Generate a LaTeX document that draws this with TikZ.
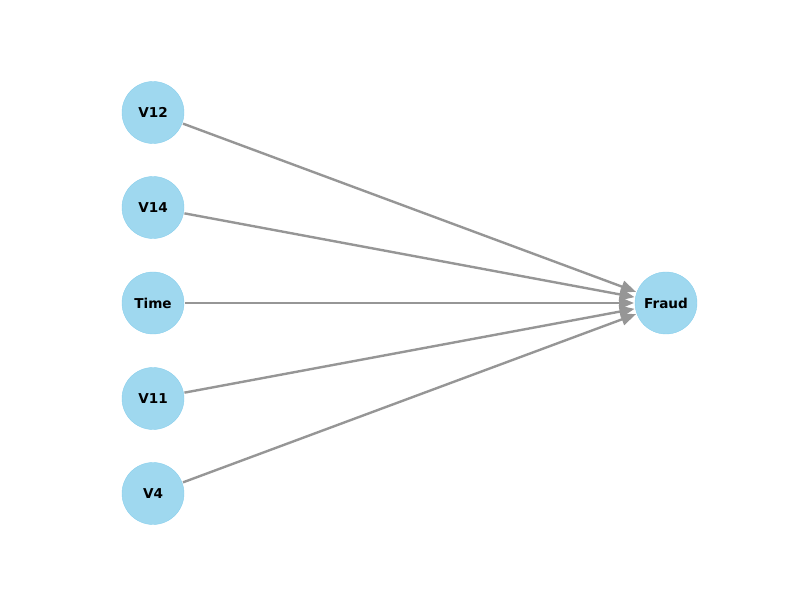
\documentclass[tikz,border=0pt]{standalone}
\usepackage{fontspec}
\setmainfont{DejaVu Sans}
\usetikzlibrary{arrows.meta}
\definecolor{nodeblue}{RGB}{135,206,235}
\definecolor{edgegray}{RGB}{150,150,150}

\begin{document}
\begin{tikzpicture}[x=1pt, y=1pt,
    var/.style={circle, fill=nodeblue, fill opacity=0.8, draw=nodeblue, text opacity=1,
      minimum size=62pt, inner sep=0pt, outer sep=1pt,
      font=\fontsize{13.6}{16}\selectfont\bfseries},
    link/.style={-{Triangle[length=15pt, width=12pt]}, line width=2.4pt, edgegray}
  ]
    \useasboundingbox (0, 0) rectangle (800, 600);

    \node[var] (v12) at (153, 487.5) {V12};
    \node[var] (v14) at (153, 392.5) {V14};
    \node[var] (time) at (153, 297) {Time};
    \node[var] (v11) at (153, 201.5) {V11};
    \node[var] (v4) at (153, 106.5) {V4};

    \node[var] (fraud) at (666, 297) {Fraud};

    \foreach \v in {v12, v14, time, v11, v4}
      \draw[link] (\v) -- (fraud);
  \end{tikzpicture}
\end{document}
